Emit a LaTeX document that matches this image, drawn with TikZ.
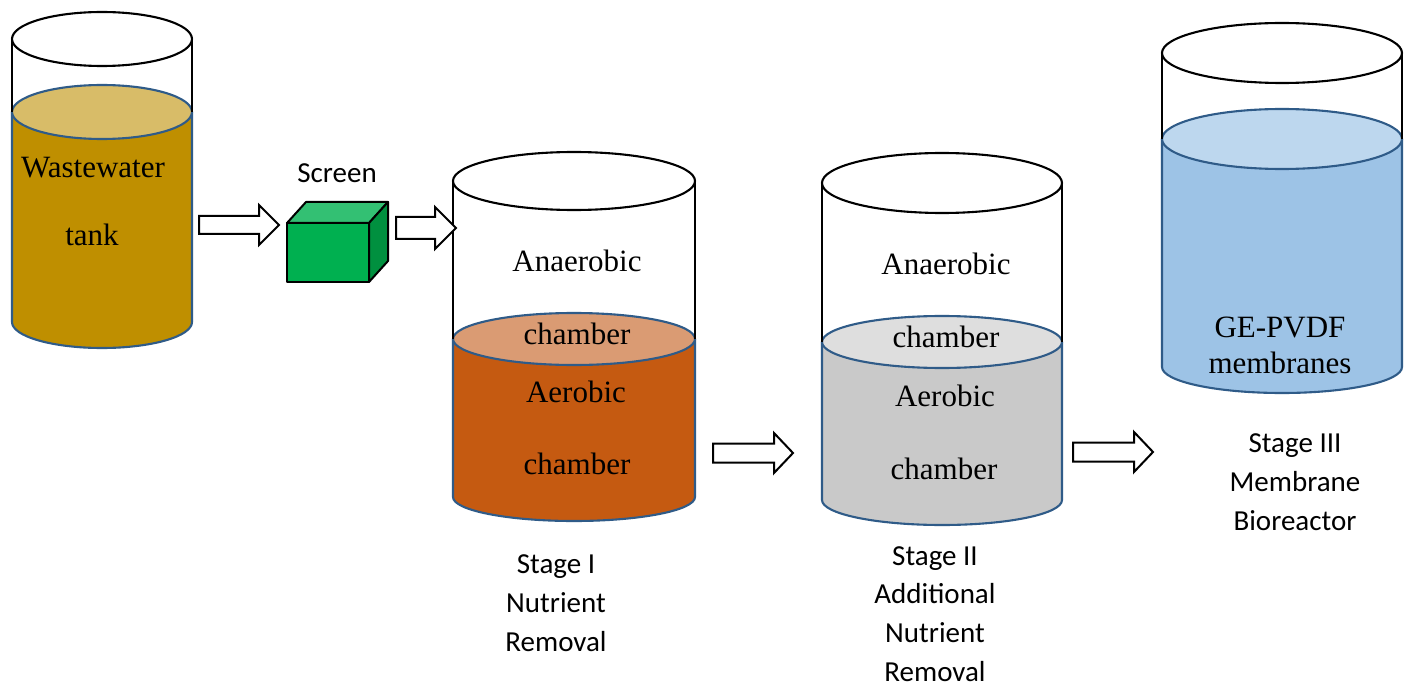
\documentclass[tikz,border=0pt]{standalone}
\usepackage{fontspec}
\setmainfont{Liberation Serif}
\newfontfamily\calfont{Carlito}
\definecolor{t1liq}{HTML}{BF8F00}\definecolor{t1top}{HTML}{D8BC68}
\definecolor{t2liq}{HTML}{C55A11}\definecolor{t2top}{HTML}{DA9B73}
\definecolor{t3liq}{HTML}{C9C9C9}\definecolor{t3top}{HTML}{DEDEDE}
\definecolor{t4liq}{HTML}{9DC3E6}\definecolor{t4top}{HTML}{BDD7EE}
\definecolor{liqblue}{HTML}{2F5B88}
\definecolor{cubefront}{HTML}{00B050}
\definecolor{cubetop}{HTML}{33C073}
\definecolor{cubeside}{HTML}{00903F}
\tikzset{
  glass/.style={draw=black,line width=2.1pt},
  liqline/.style={draw=liqblue,line width=2.1pt},
  barrowst/.style={draw=black,fill=white,line width=2pt,line join=miter},
  serif/.style={font=\fontsize{31}{36}\selectfont,inner sep=0pt,text height=0.68em,text depth=0.2em,align=center},
  sans/.style={font=\calfont\fontsize{29}{38.7}\selectfont,inner sep=0pt,align=center},
  cubest/.style={draw=black,line width=2pt,line join=round}
}
% name, cx, rx, top cy, top ry, liquid cy, liquid ry, bottom cy, bottom ry
\newcommand\tank[9]{%
  \fill[#1liq] ({#2-#3},{-#6}) -- ({#2-#3},{-#8}) arc[start angle=180,end angle=360,x radius=#3pt,y radius=#9pt] -- ({#2+#3},{-#6}) -- cycle;
  \draw[liqline] ({#2-#3},{-#6}) -- ({#2-#3},{-#8}) arc[start angle=180,end angle=360,x radius=#3pt,y radius=#9pt] -- ({#2+#3},{-#6});
  \draw[liqline,fill=#1top] (#2,{-#6}) ellipse[x radius=#3pt,y radius=#7pt];
  \draw[glass] ({#2-#3},{-#4}) -- ({#2-#3},{-#6}) ({#2+#3},{-#4}) -- ({#2+#3},{-#6});
  \draw[glass,fill=white] (#2,{-#4}) ellipse[x radius=#3pt,y radius=#5pt];
}
% x1, head start, tip, y centre, shaft half, head half
\newcommand\barrow[6]{%
  \draw[barrowst] (#1,{-(#4-#5)}) -- (#2,{-(#4-#5)}) -- (#2,{-(#4-#6)}) -- (#3,{-#4}) -- (#2,{-(#4+#6)}) -- (#2,{-(#4+#5)}) -- (#1,{-(#4+#5)}) -- cycle;
}
\begin{document}
\begin{tikzpicture}[x=1pt,y=1pt]
\useasboundingbox (0,0) rectangle (1411,-687);
\fill[white] (0,0) rectangle (1411,-687);
% tanks
\tank{t1}{102}{90}{39}{27}{112}{27}{322}{26}
\tank{t2}{574}{121}{181}{29}{339}{26}{497}{24}
\tank{t3}{942}{120}{183}{30}{342}{26}{500}{25}
\tank{t4}{1282}{120}{53}{30}{139}{30}{367}{26}
% screen cube
\draw[cubest,fill=cubetop] (287,-223) -- (306,-202) -- (388,-202) -- (369,-223) -- cycle;
\draw[cubest,fill=cubeside] (369,-223) -- (388,-202) -- (388,-261) -- (369,-282) -- cycle;
\draw[cubest,fill=cubefront] (287,-223) rectangle (369,-282);
% block arrows
\barrow{199}{259}{279}{225}{9}{20}
\barrow{396}{435}{456}{228}{11}{21}
\barrow{713}{774}{793}{453}{9.5}{20}
\barrow{1073}{1134}{1153}{452}{9.5}{20}
% texts
\node[serif] (ww) at (93,-175) {Wastewater};
\node[serif] (tk) at (92,-243) {tank};
\node[sans] (scr) at (337,-173) {Screen};
\node[serif] (an1) at (577,-269) {Anaerobic};
\node[serif] (ch1a) at (577,-342) {chamber};
\node[serif] (ae1) at (576,-400) {Aerobic};
\node[serif] (ch1b) at (577,-472) {chamber};
\node[serif] (an2) at (946,-272) {Anaerobic};
\node[serif] (ch2a) at (946,-345) {chamber};
\node[serif] (ae2) at (945,-404) {Aerobic};
\node[serif] (ch2b) at (944,-477) {chamber};
\node[serif,text height=,text depth=] (mem) at (1280,-345) {GE-PVDF\\membranes};
\node[sans] (s1) at (556,-603) {Stage I\\Nutrient\\Removal};
\node[sans] (s2) at (935,-614) {Stage II\\Additional\\Nutrient\\Removal};
\node[sans] (s3) at (1295,-482) {Stage III\\Membrane\\Bioreactor};
\end{tikzpicture}
\end{document}
